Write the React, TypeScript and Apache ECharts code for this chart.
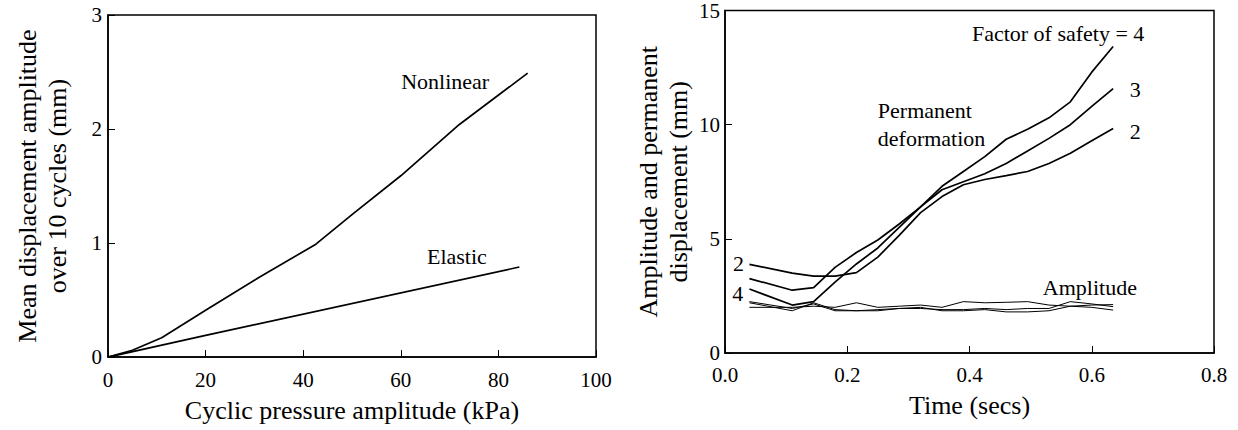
import React, { useEffect, useRef } from "react";
import * as echarts from "echarts";

// ---- Left chart data ----
const nonlinearKPa = [0, 5, 11, 20, 31, 42.6, 50, 60, 72, 86];
const nonlinearMm = [0, 0.06, 0.17, 0.41, 0.7, 0.99, 1.25, 1.59, 2.04, 2.49];
const elasticKPa = [0, 20, 84.3];
const elasticMm = [0, 0.19, 0.79];

// ---- Right chart data ----
const timeSecs = [0.04, 0.11, 0.145, 0.18, 0.215, 0.25, 0.285, 0.32, 0.355, 0.39, 0.425, 0.46, 0.495, 0.53, 0.565, 0.6, 0.635];
const permFS2 = [3.88, 3.5, 3.37, 3.37, 3.52, 4.2, 5.15, 6.15, 6.85, 7.37, 7.6, 7.77, 7.95, 8.3, 8.75, 9.3, 9.83];
const permFS3 = [3.26, 2.75, 2.86, 3.75, 4.4, 4.95, 5.65, 6.4, 7.15, 7.5, 7.85, 8.3, 8.85, 9.4, 10.0, 10.8, 11.58];
const permFS4 = [2.8, 2.1, 2.25, 3.1, 3.9, 4.6, 5.5, 6.4, 7.3, 7.95, 8.6, 9.36, 9.8, 10.3, 11.0, 12.3, 13.42];
const ampA = [2.2, 1.85, 2.2, 1.9, 1.85, 1.85, 1.95, 2.0, 1.85, 1.85, 1.9, 1.8, 1.8, 1.85, 2.05, 2.0, 1.88];
const ampB = [2.0, 2.0, 2.05, 2.0, 2.2, 2.0, 2.05, 2.1, 2.0, 2.25, 2.2, 2.22, 2.25, 2.1, 2.05, 2.1, 2.12];
const ampC = [2.25, 1.95, 2.15, 1.85, 1.85, 1.9, 1.95, 1.95, 1.9, 1.9, 1.95, 1.9, 1.95, 1.95, 2.25, 2.15, 2.03];

// ---- Annotations (data coordinates) ----
const notes = [
  { grid: 0, text: "Nonlinear", x: 69.1, y: 2.42, align: "center" },
  { grid: 0, text: "Elastic", x: 71.5, y: 0.88, align: "center" },
  { grid: 1, text: "Factor of safety = 4", x: 0.545, y: 14.0, align: "center" },
  { grid: 1, text: "3", x: 0.671, y: 11.56, align: "center" },
  { grid: 1, text: "2", x: 0.671, y: 9.7, align: "center" },
  { grid: 1, text: "Permanent", x: 0.25, y: 10.6, align: "left" },
  { grid: 1, text: "deformation", x: 0.25, y: 9.38, align: "left" },
  { grid: 1, text: "Amplitude", x: 0.52, y: 2.88, align: "left" },
  { grid: 1, text: "2", x: 0.022, y: 3.92, align: "center" },
  { grid: 1, text: "4", x: 0.021, y: 2.62, align: "center" },
];

const FONT = "Liberation Serif";

const zip = (xs: number[], ys: number[]) => xs.map((x, i) => [x, ys[i]]);

function axisCommon() {
  return {
    axisLine: { show: true, lineStyle: { color: "#000", width: 1.5 } },
    axisTick: { show: true, inside: true, length: 7, lineStyle: { color: "#000", width: 1 } },
    splitLine: { show: false },
    axisLabel: { color: "#000", fontFamily: FONT, fontSize: 21 },
    nameTextStyle: { color: "#000", fontFamily: FONT, fontSize: 26, lineHeight: 30 },
    nameLocation: "middle" as const,
  };
}

export default function App() {
  const ref = useRef<HTMLDivElement>(null);
  useEffect(() => {
    if (!ref.current) return;
    const chart = echarts.init(ref.current, null, { renderer: "svg" });
    const thick = { color: "#000", width: 1.7 };
    const thin = { color: "#000", width: 1 };
    const lineSeries = (data: number[][], idx: number, ls: any) => ({
      type: "line",
      xAxisIndex: idx,
      yAxisIndex: idx,
      data,
      showSymbol: false,
      symbol: "none",
      lineStyle: ls,
      silent: true,
    });
    chart.setOption({
      animation: false,
      backgroundColor: "#fff",
      textStyle: { fontFamily: FONT },
      grid: [
        { left: 108, top: 15, width: 488, height: 344, show: true, borderColor: "#000", borderWidth: 1.5, backgroundColor: "transparent" },
        { left: 725, top: 9, width: 489, height: 344, show: true, borderColor: "#000", borderWidth: 1.5, backgroundColor: "transparent" },
      ],
      xAxis: [
        {
          ...axisCommon(),
          type: "value",
          gridIndex: 0,
          min: 0,
          max: 100,
          interval: 20,
          name: "Cyclic pressure amplitude (kPa)",
          nameGap: 37,
          axisLabel: { ...axisCommon().axisLabel, margin: 12 },
        },
        {
          ...axisCommon(),
          type: "value",
          gridIndex: 1,
          min: 0,
          max: 0.8,
          interval: 0.2,
          name: "Time (secs)",
          nameGap: 37,
          axisLabel: { ...axisCommon().axisLabel, margin: 11, formatter: (v: number) => v.toFixed(1) },
        },
      ],
      yAxis: [
        {
          ...axisCommon(),
          type: "value",
          gridIndex: 0,
          min: 0,
          max: 3,
          interval: 1,
          name: "Mean displacement amplitude\nover 10 cycles (mm)",
          nameGap: 36,
          axisLabel: { ...axisCommon().axisLabel, margin: 6 },
        },
        {
          ...axisCommon(),
          type: "value",
          gridIndex: 1,
          min: 0,
          max: 15,
          interval: 5,
          name: "Amplitude and permanent\ndisplacement (mm)",
          nameGap: 32,
          axisLabel: { ...axisCommon().axisLabel, margin: 5 },
        },
      ],
      series: [
        lineSeries(zip(nonlinearKPa, nonlinearMm), 0, thick),
        lineSeries(zip(elasticKPa, elasticMm), 0, thick),
        lineSeries(zip(timeSecs, permFS2), 1, thick),
        lineSeries(zip(timeSecs, permFS3), 1, thick),
        lineSeries(zip(timeSecs, permFS4), 1, thick),
        lineSeries(zip(timeSecs, ampA), 1, thin),
        lineSeries(zip(timeSecs, ampB), 1, thin),
        lineSeries(zip(timeSecs, ampC), 1, thin),
      ],
    });
    const graphic = notes.map((n) => {
      const p = chart.convertToPixel({ gridIndex: n.grid } as any, [n.x, n.y]) as number[];
      return {
        type: "text",
        x: p[0],
        y: p[1],
        silent: true,
        style: {
          text: n.text,
          fontFamily: FONT,
          fontSize: 22,
          fill: "#000",
          align: n.align,
          verticalAlign: "middle",
        },
      };
    });
    chart.setOption({ graphic });
    return () => chart.dispose();
  }, []);
  return (
    <div
      ref={ref}
      style={{ position: "absolute", left: 0, top: 0, width: 1238, height: 430, background: "#fff" }}
    />
  );
}
